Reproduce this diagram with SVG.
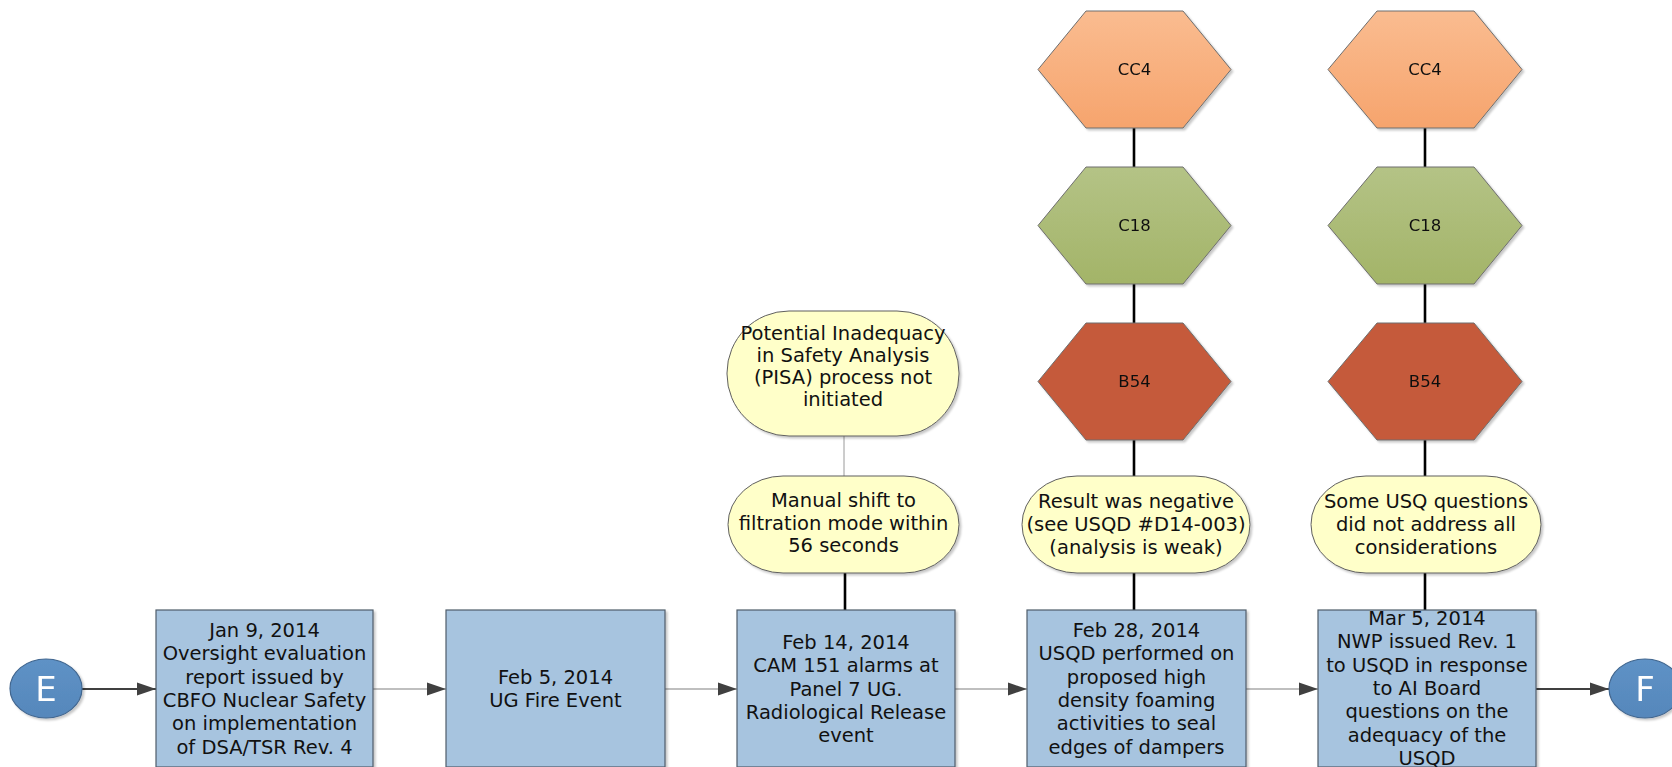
<svg xmlns="http://www.w3.org/2000/svg" width="1672" height="767" viewBox="0 0 1672 767">
<defs>
<style>
.box{fill:#A7C4DF;stroke:#4F5D6B;stroke-width:1.2}
.oval{fill:#FFFFC9;stroke:#5F5F5F;stroke-width:1}
.hex{stroke:#6E6E6E;stroke-width:1}
.t{font-family:"DejaVu Sans",sans-serif;font-size:19.5px;fill:#111;text-anchor:middle}
.h{font-family:"DejaVu Sans",sans-serif;font-size:16.5px;fill:#111;text-anchor:middle;dominant-baseline:central}
.c{font-family:"DejaVu Sans",sans-serif;font-size:34px;fill:#fff;text-anchor:middle;dominant-baseline:central}
.circ{fill:url(#gBlue);stroke:#41668F;stroke-width:1.2}
.thin{stroke:#808080;stroke-width:1.2;fill:none}
.thick{stroke:#404040;stroke-width:2.2;fill:none}
.blk{stroke:#000;stroke-width:2.6;fill:none}
.gry{stroke:#9A9A9A;stroke-width:1;fill:none}
</style>
<linearGradient id="gOr" x1="0" y1="0" x2="0" y2="1"><stop offset="0" stop-color="#FABC90"/><stop offset="1" stop-color="#F6A46D"/></linearGradient>
<linearGradient id="gGr" x1="0" y1="0" x2="0" y2="1"><stop offset="0" stop-color="#B4C386"/><stop offset="1" stop-color="#A3B468"/></linearGradient>
<linearGradient id="gBlue" x1="0" y1="0" x2="0" y2="1"><stop offset="0" stop-color="#5E92C6"/><stop offset="1" stop-color="#5687BB"/></linearGradient>
<filter id="sh" x="-10%" y="-10%" width="125%" height="125%"><feDropShadow dx="2" dy="2" stdDeviation="1.2" flood-color="#000" flood-opacity="0.22"/></filter>
<marker id="ah" markerUnits="userSpaceOnUse" markerWidth="20" markerHeight="14" refX="19" refY="7" orient="auto"><path d="M0,0.5 L19,7 L0,13.5 Z" fill="#404040"/></marker>
</defs>

<g id="connectors">
<line class="thick" x1="82" y1="689" x2="156" y2="689" marker-end="url(#ah)"/>
<line class="thin" x1="373" y1="689" x2="446" y2="689" marker-end="url(#ah)"/>
<line class="thin" x1="665" y1="689" x2="737" y2="689" marker-end="url(#ah)"/>
<line class="thin" x1="955" y1="689" x2="1027" y2="689" marker-end="url(#ah)"/>
<line class="thin" x1="1246" y1="689" x2="1318" y2="689" marker-end="url(#ah)"/>
<line class="thick" x1="1536" y1="689" x2="1609" y2="689" marker-end="url(#ah)"/>
<line class="gry" x1="844" y1="436" x2="844" y2="476"/>
<line class="blk" x1="845" y1="573" x2="845" y2="611"/>
<line class="blk" x1="1134" y1="128" x2="1134" y2="167"/>
<line class="blk" x1="1134" y1="284" x2="1134" y2="323"/>
<line class="blk" x1="1134" y1="440" x2="1134" y2="476"/>
<line class="blk" x1="1134" y1="573" x2="1134" y2="611"/>
<line class="blk" x1="1425" y1="128" x2="1425" y2="167"/>
<line class="blk" x1="1425" y1="284" x2="1425" y2="323"/>
<line class="blk" x1="1425" y1="440" x2="1425" y2="476"/>
<line class="blk" x1="1425" y1="573" x2="1425" y2="611"/>
</g>

<g id="nodeE" filter="url(#sh)">
<ellipse class="circ" cx="46" cy="688.5" rx="36" ry="29.5"/>
<text class="c" x="46" y="689">E</text>
</g>

<g id="nodeF" filter="url(#sh)">
<ellipse class="circ" cx="1645" cy="688.5" rx="36" ry="29.5"/>
<text class="c" x="1645" y="689">F</text>
</g>

<g id="box1">
<rect class="box" filter="url(#sh)" x="156" y="610" width="217" height="157"/>
<text class="t" x="264.5" y="637"><tspan x="264.5">Jan 9, 2014</tspan><tspan x="264.5" dy="23.3">Oversight evaluation</tspan><tspan x="264.5" dy="23.3">report issued by</tspan><tspan x="264.5" dy="23.3">CBFO Nuclear Safety</tspan><tspan x="264.5" dy="23.3">on implementation</tspan><tspan x="264.5" dy="23.3">of DSA/TSR Rev. 4</tspan></text>
</g>

<g id="box2">
<rect class="box" filter="url(#sh)" x="446" y="610" width="219" height="157"/>
<text class="t" x="555.5" y="684"><tspan x="555.5">Feb 5, 2014</tspan><tspan x="555.5" dy="23.3">UG Fire Event</tspan></text>
</g>

<g id="box3">
<rect class="box" filter="url(#sh)" x="737" y="610" width="218" height="157"/>
<text class="t" x="846" y="649"><tspan x="846">Feb 14, 2014</tspan><tspan x="846" dy="23.3">CAM 151 alarms at</tspan><tspan x="846" dy="23.3">Panel 7 UG.</tspan><tspan x="846" dy="23.3">Radiological Release</tspan><tspan x="846" dy="23.3">event</tspan></text>
</g>

<g id="box4">
<rect class="box" filter="url(#sh)" x="1027" y="610" width="219" height="157"/>
<text class="t" x="1136.5" y="637"><tspan x="1136.5">Feb 28, 2014</tspan><tspan x="1136.5" dy="23.3">USQD performed on</tspan><tspan x="1136.5" dy="23.3">proposed high</tspan><tspan x="1136.5" dy="23.3">density foaming</tspan><tspan x="1136.5" dy="23.3">activities to seal</tspan><tspan x="1136.5" dy="23.3">edges of dampers</tspan></text>
</g>

<g id="box5">
<rect class="box" filter="url(#sh)" x="1318" y="610" width="218" height="157"/>
<text class="t" x="1427" y="625"><tspan x="1427">Mar 5, 2014</tspan><tspan x="1427" dy="23.3">NWP issued Rev. 1</tspan><tspan x="1427" dy="23.3">to USQD in response</tspan><tspan x="1427" dy="23.3">to AI Board</tspan><tspan x="1427" dy="23.3">questions on the</tspan><tspan x="1427" dy="23.3">adequacy of the</tspan><tspan x="1427" dy="23.3">USQD</tspan></text>
</g>

<g id="pisa">
<rect class="oval" filter="url(#sh)" x="727" y="311" width="232" height="125" rx="62" ry="62"/>
<text class="t" x="843" y="340"><tspan x="843">Potential Inadequacy</tspan><tspan x="843" dy="22">in Safety Analysis</tspan><tspan x="843" dy="22">(PISA) process not</tspan><tspan x="843" dy="22">initiated</tspan></text>
</g>

<g id="manual">
<rect class="oval" filter="url(#sh)" x="728" y="476" width="231" height="97" rx="55" ry="48.5"/>
<text class="t" x="843.5" y="507"><tspan x="843.5">Manual shift to</tspan><tspan x="843.5" dy="22.5">filtration mode within</tspan><tspan x="843.5" dy="22.5">56 seconds</tspan></text>
</g>

<g id="result">
<rect class="oval" filter="url(#sh)" x="1022" y="476" width="228" height="97" rx="55" ry="48.5"/>
<text class="t" x="1136" y="508"><tspan x="1136">Result was negative</tspan><tspan x="1136" dy="23">(see USQD #D14-003)</tspan><tspan x="1136" dy="23">(analysis is weak)</tspan></text>
</g>

<g id="someusq">
<rect class="oval" filter="url(#sh)" x="1311" y="476" width="230" height="97" rx="55" ry="48.5"/>
<text class="t" x="1426" y="508"><tspan x="1426">Some USQ questions</tspan><tspan x="1426" dy="23">did not address all</tspan><tspan x="1426" dy="23">considerations</tspan></text>
</g>

<g id="cc4a" filter="url(#sh)">
<polygon class="hex" fill="url(#gOr)" points="1038,69.5 1086,11 1183,11 1231,69.5 1183,128 1086,128"/>
<text class="h" x="1134.5" y="69.5">CC4</text>
</g>
<g id="c18a" filter="url(#sh)">
<polygon class="hex" fill="url(#gGr)" points="1038,225.5 1086,167 1183,167 1231,225.5 1183,284 1086,284"/>
<text class="h" x="1134.5" y="225.5">C18</text>
</g>
<g id="b54a" filter="url(#sh)">
<polygon class="hex" fill="#C55A3A" points="1038,381.5 1086,323 1183,323 1231,381.5 1183,440 1086,440"/>
<text class="h" x="1134.5" y="381.5">B54</text>
</g>

<g id="cc4b" filter="url(#sh)">
<polygon class="hex" fill="url(#gOr)" points="1328,69.5 1377,11 1474,11 1522,69.5 1474,128 1377,128"/>
<text class="h" x="1425" y="69.5">CC4</text>
</g>
<g id="c18b" filter="url(#sh)">
<polygon class="hex" fill="url(#gGr)" points="1328,225.5 1377,167 1474,167 1522,225.5 1474,284 1377,284"/>
<text class="h" x="1425" y="225.5">C18</text>
</g>
<g id="b54b" filter="url(#sh)">
<polygon class="hex" fill="#C55A3A" points="1328,381.5 1377,323 1474,323 1522,381.5 1474,440 1377,440"/>
<text class="h" x="1425" y="381.5">B54</text>
</g>
</svg>
